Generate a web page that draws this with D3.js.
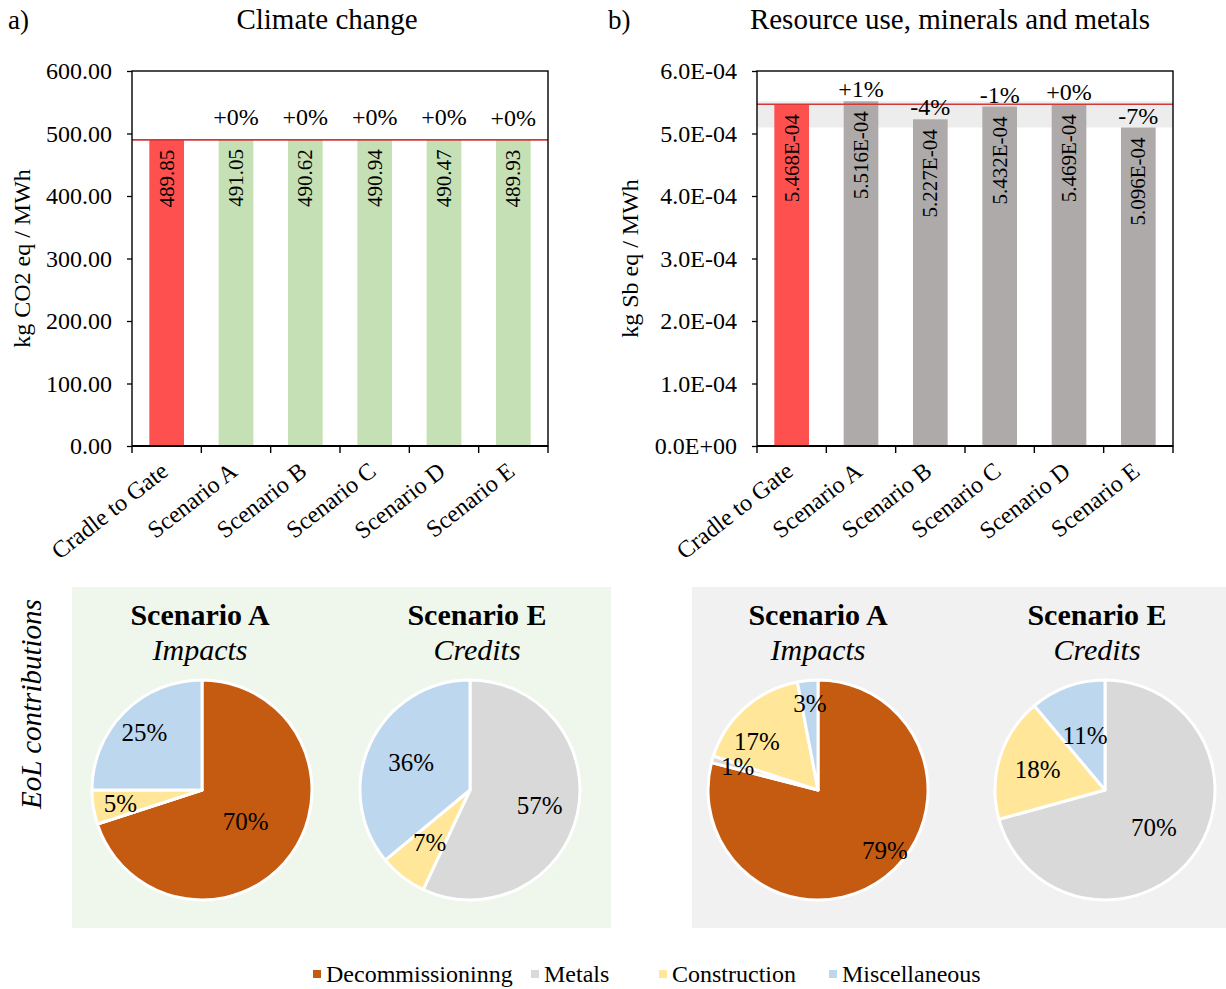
<!DOCTYPE html>
<html>
<head>
<meta charset="utf-8">
<script src="https://cdn.jsdelivr.net/npm/d3@7"></script>
<style>
  body { margin: 0; background: #fff; }
  text { font-family: "Liberation Serif", "Times New Roman", serif; fill: #000; }
</style>
</head>
<body>
<svg id="fig" width="1226" height="989"></svg>
<script>
// ---- data ----
const categories = ["Cradle to Gate", "Scenario A", "Scenario B", "Scenario C", "Scenario D", "Scenario E"];
const climateValues = [489.85, 491.05, 490.62, 490.94, 490.47, 489.93];
const climateTicks = [0, 100, 200, 300, 400, 500, 600];
const resourceValues = [5.468e-4, 5.516e-4, 5.227e-4, 5.432e-4, 5.469e-4, 5.096e-4];
const resourceTicks = [0, 1e-4, 2e-4, 3e-4, 4e-4, 5e-4, 6e-4];

const eolCategories = ["Decommissioninng", "Metals", "Construction", "Miscellaneous"];
const climateImpactsA = [70, 0, 5, 25];
const climateCreditsE = [0, 57, 7, 36];
const resourceImpactsA = [79, 1, 17, 3];
const resourceCreditsE = [0, 70, 18, 11];

// ---- styling ----
const eolColors = ["#c55a11", "#d9d9d9", "#ffe699", "#bdd7ee"];
const baseColor = "#ff5050";
const refLine = "#d23a3a";

const svg = d3.select("#fig");

function fmtSci(v, digits) {
  const [m, e] = v.toExponential(digits).toUpperCase().split("E");
  const n = Math.abs(+e);
  return m + "E" + (+e < 0 ? "-" : "+") + String(n).padStart(2, "0");
}
function fmtChange(v, base) {
  const p = Math.round((v / base - 1) * 100);
  return (p < 0 ? "-" : "+") + Math.abs(p) + "%";
}

function barChart(opt) {
  const { left, right, top, bottom, values, ticks, tickFmt, valueFmt, fill, bandFill, labelGap, yTitle, yTitleX, title, titleX, tag, tagX } = opt;
  const g = svg.append("g");
  const x = d3.scaleBand().domain(categories).range([left, right]).paddingInner(0.5).paddingOuter(0.25);
  const y = d3.scaleLinear().domain([ticks[0], ticks[ticks.length - 1]]).range([bottom, top]);
  const base = values[0];
  const scen = values.slice(1);

  // band spanning the scenario range
  g.append("rect")
    .attr("x", left).attr("width", right - left)
    .attr("y", y(d3.max(scen))).attr("height", y(d3.min(scen)) - y(d3.max(scen)))
    .attr("fill", bandFill);

  // bars
  g.selectAll("rect.bar").data(values).join("rect").attr("class", "bar")
    .attr("x", (d, i) => x(categories[i]))
    .attr("width", x.bandwidth())
    .attr("y", d => y(d))
    .attr("height", d => bottom - y(d))
    .attr("fill", (d, i) => i === 0 ? baseColor : fill);

  // reference line at the cradle-to-gate value
  g.append("line")
    .attr("x1", left).attr("x2", right)
    .attr("y1", y(base)).attr("y2", y(base))
    .attr("stroke", refLine).attr("stroke-width", 1.6);

  // value labels inside the bars
  g.selectAll("text.val").data(values).join("text").attr("class", "val")
    .attr("transform", (d, i) => `translate(${x(categories[i]) + x.bandwidth() / 2 + 7},${y(d) + 10}) rotate(-90)`)
    .attr("text-anchor", "end")
    .style("font-size", "21px")
    .text(d => valueFmt(d));

  // change labels above the scenario bars
  g.selectAll("text.chg").data(scen).join("text").attr("class", "chg")
    .attr("x", (d, i) => x(categories[i + 1]) + x.bandwidth() / 2)
    .attr("y", d => y(d) - labelGap)
    .attr("text-anchor", "middle")
    .style("font-size", "24px")
    .text(d => fmtChange(d, base));

  // frame
  g.append("rect")
    .attr("x", left).attr("y", top).attr("width", right - left).attr("height", bottom - top)
    .attr("fill", "none").attr("stroke", "#000").attr("stroke-width", 1.4);

  // y axis
  const ya = g.append("g").attr("transform", `translate(${left},0)`)
    .call(d3.axisLeft(y).tickValues(ticks).tickFormat(tickFmt).tickSize(5).tickPadding(15));
  ya.select(".domain").remove();
  ya.selectAll("line").attr("stroke", "#000").attr("stroke-width", 1.3);
  ya.selectAll("text").style("font-size", "24px").attr("font-family", null).attr("fill", "#000");

  // x axis: boundary ticks and rotated category labels
  const xa = g.append("g").attr("transform", `translate(0,${bottom})`);
  xa.append("line").attr("x1", left).attr("x2", right).attr("stroke", "#000").attr("stroke-width", 2);
  d3.range(categories.length + 1).forEach(i => {
    const xp = left + i * x.step();
    xa.append("line").attr("x1", xp).attr("x2", xp).attr("y1", 0).attr("y2", 7)
      .attr("stroke", "#000").attr("stroke-width", 1.4);
  });
  xa.selectAll("text.cat").data(categories).join("text").attr("class", "cat")
    .attr("transform", d => `translate(${x(d) + x.bandwidth() / 2 + 3},${28}) rotate(-38)`)
    .attr("text-anchor", "end")
    .style("font-size", "24px")
    .text(d => d);

  // titles
  g.append("text")
    .attr("transform", `translate(${yTitleX},${(top + bottom) / 2}) rotate(-90)`)
    .attr("text-anchor", "middle").style("font-size", "24px").text(yTitle);
  g.append("text").attr("x", titleX).attr("y", 29)
    .attr("text-anchor", "middle").style("font-size", "29px").text(title);
  g.append("text").attr("x", tagX).attr("y", 29).style("font-size", "27px").text(tag);
}

barChart({
  left: 132, right: 548, top: 71, bottom: 446,
  values: climateValues, ticks: climateTicks,
  tickFmt: d3.format(".2f"), valueFmt: d3.format(".2f"),
  fill: "#c5e0b4", bandFill: "#e2efd9", labelGap: 14,
  yTitle: "kg CO2 eq / MWh", yTitleX: 30, title: "Climate change", titleX: 327, tag: "a)", tagX: 8
});
barChart({
  left: 757, right: 1173, top: 71, bottom: 446,
  values: resourceValues, ticks: resourceTicks,
  tickFmt: d => fmtSci(d, 1), valueFmt: d => fmtSci(d, 3),
  fill: "#aeaaaa", bandFill: "#ededed", labelGap: 4,
  yTitle: "kg Sb eq / MWh", yTitleX: 638, title: "Resource use, minerals and metals", titleX: 950, tag: "b)", tagX: 608
});

// ---- EoL contribution pies ----
svg.append("rect").attr("x", 72).attr("y", 587).attr("width", 539).attr("height", 341).attr("fill", "#eff6ec");
svg.append("rect").attr("x", 692).attr("y", 587).attr("width", 534).attr("height", 341).attr("fill", "#f2f1f1");

svg.append("text")
  .attr("transform", "translate(41,704) rotate(-90)")
  .attr("text-anchor", "middle").style("font-size", "29px").style("font-style", "italic")
  .text("EoL contributions");

// label placement per slice: radius fraction and angular nudge (degrees)
const pies = [
  { values: climateImpactsA, cx: 202, cy: 790, titleX: 200, head: "Scenario A", sub: "Impacts",
    labelR: [0.49, 0.7, 0.75, 0.74], labelTurn: [0, 0, 0, 0] },
  { values: climateCreditsE, cx: 470, cy: 790, titleX: 477, head: "Scenario E", sub: "Credits",
    labelR: [0.6, 0.65, 0.6, 0.59], labelTurn: [0, 0, 0, 0] },
  { values: resourceImpactsA, cx: 818, cy: 790, titleX: 818, head: "Scenario A", sub: "Impacts",
    labelR: [0.82, 0.76, 0.71, 0.79], labelTurn: [-10, 0, -10, 0] },
  { values: resourceCreditsE, cx: 1105, cy: 790, titleX: 1097, head: "Scenario E", sub: "Credits",
    labelR: [0.6, 0.56, 0.64, 0.53], labelTurn: [0, 0, 0, 0] }
];
const radius = 110;
const pieGen = d3.pie().sort(null).value(d => d);
const arc = d3.arc().innerRadius(0).outerRadius(radius);

pies.forEach(p => {
  const g = svg.append("g").attr("transform", `translate(${p.cx},${p.cy})`);
  const arcs = pieGen(p.values);
  g.selectAll("path").data(arcs).join("path")
    .attr("d", arc)
    .attr("fill", (d, i) => eolColors[i])
    .attr("stroke", "#fff").attr("stroke-width", 3).attr("stroke-linejoin", "round");
  g.selectAll("text.pct").data(arcs.filter(d => d.value > 0)).join("text").attr("class", "pct")
    .attr("transform", d => {
      const a = (d.startAngle + d.endAngle) / 2 + p.labelTurn[d.index] * Math.PI / 180;
      const r = radius * p.labelR[d.index];
      return `translate(${Math.sin(a) * r},${-Math.cos(a) * r})`;
    })
    .attr("text-anchor", "middle").attr("dy", "0.35em")
    .style("font-size", "25px")
    .text(d => d.value + "%");
  svg.append("text").attr("x", p.titleX).attr("y", 625).attr("text-anchor", "middle")
    .style("font-size", "30px").style("font-weight", "bold").text(p.head);
  svg.append("text").attr("x", p.titleX).attr("y", 660).attr("text-anchor", "middle")
    .style("font-size", "30px").style("font-style", "italic").text(p.sub);
});

// ---- legend ----
const legendX = [313, 531, 659, 829];
const lg = svg.append("g");
eolCategories.forEach((c, i) => {
  lg.append("rect").attr("x", legendX[i]).attr("y", 970).attr("width", 8).attr("height", 8).attr("fill", eolColors[i]);
  lg.append("text").attr("x", legendX[i] + 13).attr("y", 982).style("font-size", "24px").text(c);
});
</script>
</body>
</html>
